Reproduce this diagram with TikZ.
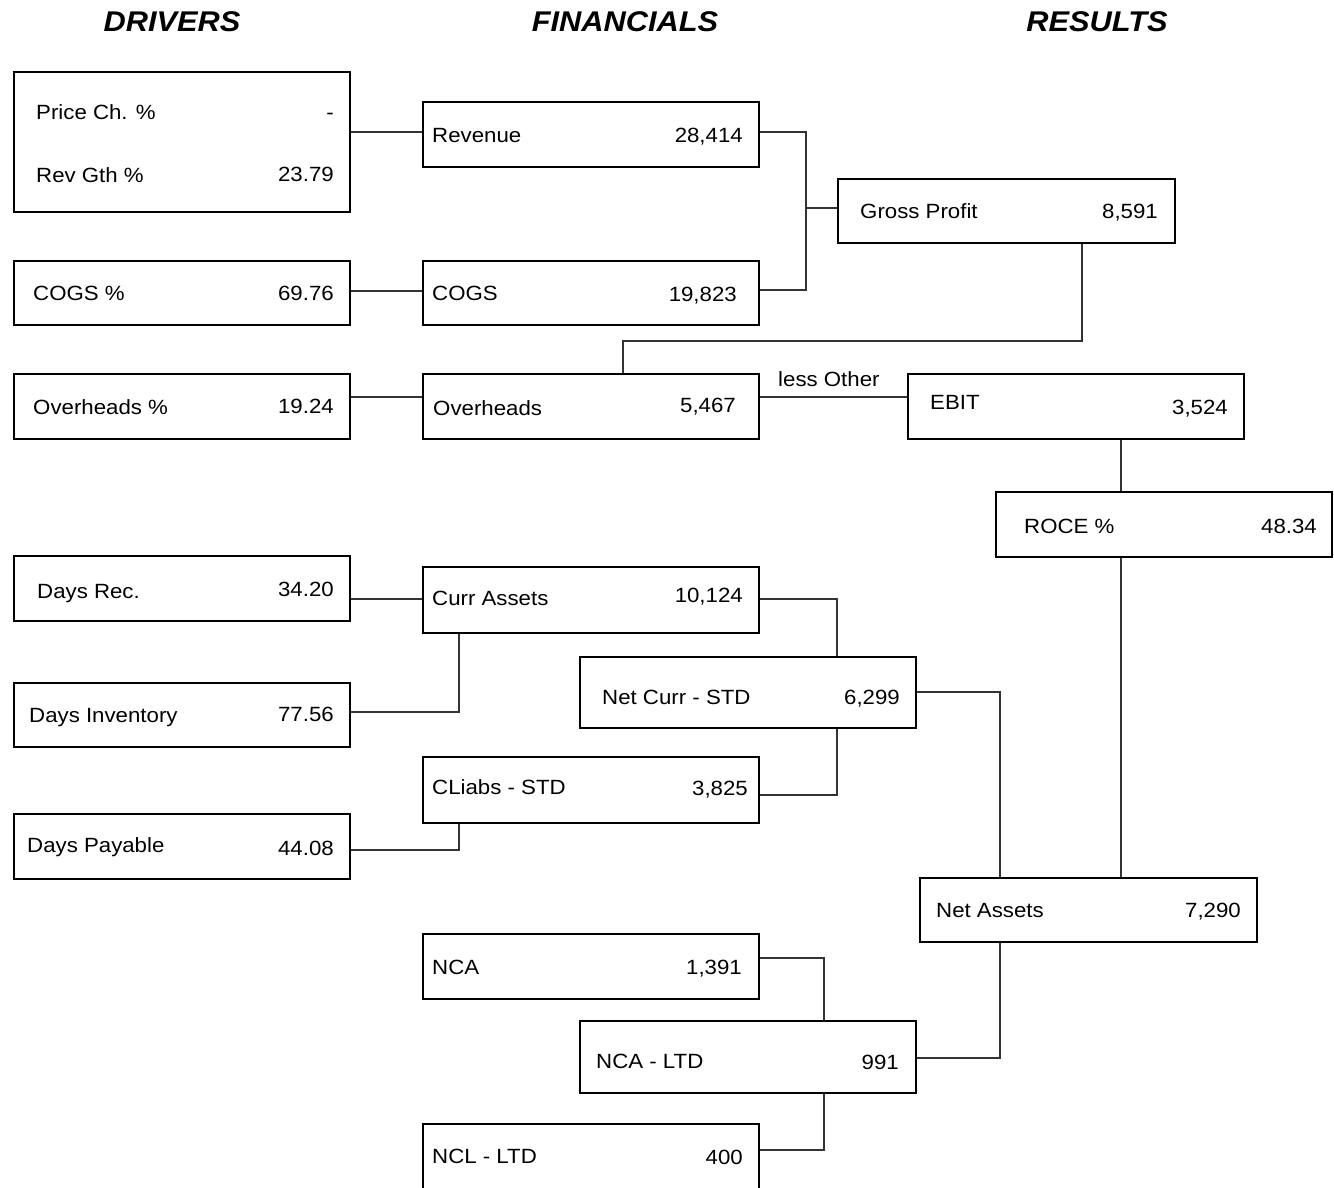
\documentclass[tikz,border=0pt]{standalone}
\usepackage{fontspec}
\setmainfont{Liberation Sans}[FakeStretch=1.08]
\usetikzlibrary{fit}
\begin{document}
\begin{tikzpicture}[x=1pt,y=-1pt,
  bx/.style={draw=black, line width=2pt, inner sep=0pt, fill=white},
  lbl/.style={anchor=west, inner sep=0pt, text height=14.6pt, text depth=0pt, font=\fontsize{20.6}{24}\selectfont},
  val/.style={anchor=east, inner sep=0pt, text height=14.6pt, text depth=0pt, font=\fontsize{20.6}{24}\selectfont},
  hdr/.style={inner sep=0pt, font=\fontsize{28.5}{34}\selectfont\bfseries\itshape},
  con/.style={draw=black!80, line width=1.3pt}]
\useasboundingbox (0,0) rectangle (1334,1188);
\clip (0,0) rectangle (1334,1188);
% headers
\node[hdr] (hd) at (172,22) {DRIVERS};
\node[hdr] (hf) at (625,22) {FINANCIALS};
\node[hdr] (hr) at (1097,22) {RESULTS};
% boxes - drivers
\node[bx, fit={(14,72) (350,212)}] (drv) {};
\node[bx, fit={(14,261) (350,325)}] (cogsp) {};
\node[bx, fit={(14,374) (350,439)}] (ohp) {};
\node[bx, fit={(14,556) (350,621)}] (drec) {};
\node[bx, fit={(14,683) (350,747)}] (dinv) {};
\node[bx, fit={(14,814) (350,879)}] (dpay) {};
% boxes - financials
\node[bx, fit={(423,102) (759,167)}] (rev) {};
\node[bx, fit={(423,261) (759,325)}] (cogs) {};
\node[bx, fit={(423,374) (759,439)}] (oh) {};
\node[bx, fit={(423,567) (759,633)}] (ca) {};
\node[bx, fit={(423,757) (759,823)}] (cl) {};
\node[bx, fit={(423,934) (759,999)}] (nca) {};
\node[bx, fit={(423,1124) (759,1210)}] (ncl) {};
% boxes - results
\node[bx, fit={(838,179) (1175,243)}] (gp) {};
\node[bx, fit={(908,374) (1244,439)}] (ebit) {};
\node[bx, fit={(996,492) (1332,557)}] (roce) {};
\node[bx, fit={(580,657) (916,728)}] (ncs) {};
\node[bx, fit={(920,878) (1257,942)}] (na) {};
\node[bx, fit={(580,1021) (916,1093)}] (ncal) {};
% texts
\node[lbl] (t1) at (36,112) {Price Ch. \%};
\node[val] (v1) at (334,112) {-};
\node[lbl] (t2) at (36,175) {Rev Gth \%};
\node[val] (v2) at (334,174) {23.79};
\node[lbl] (t3) at (33,293) {COGS \%};
\node[val] (v3) at (334,293) {69.76};
\node[lbl] (t4) at (33,407) {Overheads \%};
\node[val] (v4) at (334,406) {19.24};
\node[lbl] (t5) at (37,591) {Days Rec.};
\node[val] (v5) at (334,589) {34.20};
\node[lbl] (t6) at (29,715) {Days Inventory};
\node[val] (v6) at (334,714) {77.56};
\node[lbl] (t7) at (27,845) {Days Payable};
\node[val] (v7) at (334,848) {44.08};
\node[lbl] (t8) at (432,135) {Revenue};
\node[val] (v8) at (743,135) {28,414};
\node[lbl] (t9) at (432,293) {COGS};
\node[val] (v9) at (737,294) {19,823};
\node[lbl] (t10) at (433,408) {Overheads};
\node[val] (v10) at (736,405) {5,467};
\node[lbl] (t11) at (432,598) {Curr Assets};
\node[val] (v11) at (743,595) {10,124};
\node[lbl] (t12) at (432,787) {CLiabs - STD};
\node[val] (v12) at (748,788) {3,825};
\node[lbl] (t13) at (432,967) {NCA};
\node[val] (v13) at (742,967) {1,391};
\node[lbl] (t14) at (432,1156) {NCL - LTD};
\node[val] (v14) at (743,1157) {400};
\node[lbl] (t15) at (860,211) {Gross Profit};
\node[val] (v15) at (1158,211) {8,591};
\node[lbl] (t16) at (930,402) {EBIT};
\node[val] (v16) at (1228,407) {3,524};
\node[lbl] (t17) at (1024,526) {ROCE \%};
\node[val] (v17) at (1317,526) {48.34};
\node[lbl] (t18) at (602,697) {Net Curr - STD};
\node[val] (v18) at (900,697) {6,299};
\node[lbl] (t19) at (936,910) {Net Assets};
\node[val] (v19) at (1241,910) {7,290};
\node[lbl] (t20) at (596,1061) {NCA - LTD};
\node[val] (v20) at (899,1062) {991};
\node[lbl] (lo) at (778,379) {less Other};
% connectors
\draw[con] (drv.east |- 0,132) -- (rev.west |- 0,132);
\draw[con] (rev.east |- 0,132) -- (806,132) -- (806,290) -- (cogs.east |- 0,290);
\draw[con] (806,208) -- (gp.west |- 0,208);
\draw[con] (cogsp.east |- 0,291) -- (cogs.west |- 0,291);
\draw[con] (gp.south -| 1082,0) -- (1082,341) -- (623,341) -- (oh.north -| 623,0);
\draw[con] (ohp.east |- 0,397) -- (oh.west |- 0,397);
\draw[con] (oh.east |- 0,397) -- (ebit.west |- 0,397);
\draw[con] (ebit.south -| 1121,0) -- (roce.north -| 1121,0);
\draw[con] (roce.south -| 1121,0) -- (na.north -| 1121,0);
\draw[con] (drec.east |- 0,599) -- (ca.west |- 0,599);
\draw[con] (ca.south -| 459,0) -- (459,712) -- (dinv.east |- 0,712);
\draw[con] (ca.east |- 0,599) -- (837,599) -- (ncs.north -| 837,0);
\draw[con] (ncs.south -| 837,0) -- (837,795) -- (cl.east |- 0,795);
\draw[con] (cl.south -| 459,0) -- (459,850) -- (dpay.east |- 0,850);
\draw[con] (ncs.east |- 0,692) -- (1000,692) -- (na.north -| 1000,0);
\draw[con] (na.south -| 1000,0) -- (1000,1058) -- (ncal.east |- 0,1058);
\draw[con] (nca.east |- 0,958) -- (824,958) -- (ncal.north -| 824,0);
\draw[con] (ncal.south -| 824,0) -- (824,1150) -- (ncl.east |- 0,1150);
\end{tikzpicture}
\end{document}
